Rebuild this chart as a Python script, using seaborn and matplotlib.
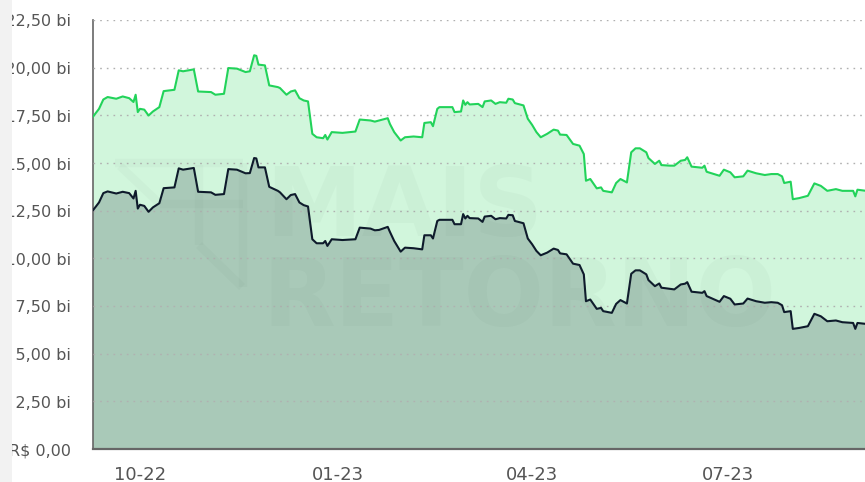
import matplotlib
matplotlib.use('Agg')
import matplotlib.pyplot as plt
import matplotlib.dates as mdates
from matplotlib import font_manager
from matplotlib.ticker import FuncFormatter
from matplotlib.patches import Rectangle
from matplotlib.lines import Line2D
import seaborn as sns
import pandas as pd

# data (R$ bi)
dates = ['2022-09-09', '2022-09-12', '2022-09-14', '2022-09-16', '2022-09-20', '2022-09-23',
         '2022-09-26', '2022-09-28', '2022-09-29', '2022-09-30', '2022-10-01', '2022-10-03',
         '2022-10-05', '2022-10-07', '2022-10-10', '2022-10-12', '2022-10-17', '2022-10-19',
         '2022-10-21', '2022-10-26', '2022-10-28', '2022-11-03', '2022-11-05', '2022-11-09',
         '2022-11-11', '2022-11-15', '2022-11-19', '2022-11-21', '2022-11-23', '2022-11-24',
         '2022-11-25', '2022-11-28', '2022-11-30', '2022-12-04', '2022-12-05', '2022-12-08',
         '2022-12-10', '2022-12-12', '2022-12-14', '2022-12-16', '2022-12-18', '2022-12-20',
         '2022-12-22', '2022-12-25', '2022-12-26', '2022-12-27', '2022-12-29', '2023-01-03',
         '2023-01-09', '2023-01-11', '2023-01-16', '2023-01-18', '2023-01-20', '2023-01-24',
         '2023-01-25', '2023-01-27', '2023-01-30', '2023-02-01', '2023-02-05', '2023-02-09',
         '2023-02-10', '2023-02-13', '2023-02-14', '2023-02-16', '2023-02-17', '2023-02-23',
         '2023-02-24', '2023-02-27', '2023-02-28', '2023-03-01', '2023-03-02', '2023-03-03',
         '2023-03-07', '2023-03-09', '2023-03-10', '2023-03-13', '2023-03-15', '2023-03-17',
         '2023-03-20', '2023-03-21', '2023-03-23', '2023-03-24', '2023-03-28', '2023-03-30',
         '2023-04-01', '2023-04-03', '2023-04-05', '2023-04-08', '2023-04-11', '2023-04-13',
         '2023-04-14', '2023-04-17', '2023-04-20', '2023-04-23', '2023-04-25', '2023-04-26',
         '2023-04-28', '2023-05-01', '2023-05-03', '2023-05-04', '2023-05-08', '2023-05-10',
         '2023-05-12', '2023-05-15', '2023-05-17', '2023-05-19', '2023-05-21', '2023-05-24',
         '2023-05-25', '2023-05-28', '2023-05-30', '2023-05-31', '2023-06-04', '2023-06-06',
         '2023-06-09', '2023-06-11', '2023-06-12', '2023-06-14', '2023-06-19', '2023-06-20',
         '2023-06-21', '2023-06-27', '2023-06-29', '2023-07-02', '2023-07-04', '2023-07-08',
         '2023-07-10', '2023-07-14', '2023-07-18', '2023-07-21', '2023-07-24', '2023-07-26',
         '2023-07-27', '2023-07-30', '2023-07-31', '2023-08-03', '2023-08-07', '2023-08-10',
         '2023-08-13', '2023-08-16', '2023-08-20', '2023-08-23', '2023-08-28', '2023-08-29',
         '2023-08-30', '2023-09-03']

upper_vals = [17.40, 17.84, 18.33, 18.46, 18.37, 18.49, 18.40, 18.20, 18.58, 17.67, 17.84, 17.80,
              17.49, 17.70, 17.93, 18.77, 18.84, 19.86, 19.81, 19.91, 18.75, 18.72, 18.58, 18.63,
              19.98, 19.95, 19.77, 19.81, 20.65, 20.62, 20.16, 20.12, 19.07, 18.98, 18.93, 18.58,
              18.75, 18.81, 18.40, 18.28, 18.23, 16.53, 16.35, 16.30, 16.47, 16.23, 16.62, 16.58,
              16.65, 17.28, 17.23, 17.17, 17.23, 17.35, 17.05, 16.62, 16.18, 16.35, 16.39, 16.35,
              17.10, 17.14, 16.93, 17.84, 17.93, 17.93, 17.67, 17.70, 18.28, 18.05, 18.19, 18.07,
              18.10, 17.93, 18.23, 18.28, 18.10, 18.19, 18.16, 18.37, 18.33, 18.14, 18.02, 17.32,
              17.00, 16.62, 16.35, 16.53, 16.75, 16.70, 16.49, 16.47, 16.00, 15.91, 15.47, 14.07,
              14.16, 13.67, 13.72, 13.54, 13.46, 13.95, 14.16, 13.98, 15.56, 15.77, 15.77, 15.56,
              15.26, 14.95, 15.12, 14.89, 14.86, 14.86, 15.12, 15.16, 15.30, 14.81, 14.75, 14.86,
              14.54, 14.33, 14.65, 14.51, 14.25, 14.30, 14.60, 14.46, 14.37, 14.42, 14.42, 14.30,
              13.95, 14.02, 13.10, 13.16, 13.28, 13.93, 13.80, 13.54, 13.63, 13.54, 13.54, 13.25,
              13.60, 13.54]

lower_vals = [12.49, 12.93, 13.42, 13.51, 13.40, 13.49, 13.42, 13.14, 13.54, 12.61, 12.81, 12.75,
              12.44, 12.67, 12.89, 13.68, 13.72, 14.72, 14.65, 14.74, 13.49, 13.46, 13.33, 13.37,
              14.68, 14.65, 14.46, 14.47, 15.26, 15.24, 14.77, 14.77, 13.75, 13.54, 13.46, 13.10,
              13.32, 13.37, 12.93, 12.79, 12.72, 11.00, 10.79, 10.79, 10.91, 10.65, 11.00, 10.96,
              11.00, 11.61, 11.56, 11.47, 11.49, 11.65, 11.39, 10.91, 10.35, 10.56, 10.53, 10.47,
              11.21, 11.21, 11.04, 11.96, 12.02, 12.02, 11.79, 11.79, 12.32, 12.09, 12.23, 12.11,
              12.09, 11.91, 12.19, 12.23, 12.05, 12.11, 12.09, 12.28, 12.26, 11.96, 11.84, 11.04,
              10.74, 10.39, 10.16, 10.30, 10.51, 10.44, 10.26, 10.21, 9.72, 9.65, 9.16, 7.75,
              7.84, 7.35, 7.40, 7.23, 7.14, 7.61, 7.81, 7.63, 9.19, 9.37, 9.37, 9.16,
              8.86, 8.54, 8.68, 8.46, 8.40, 8.37, 8.63, 8.67, 8.75, 8.25, 8.19, 8.28,
              8.02, 7.72, 8.02, 7.88, 7.58, 7.63, 7.89, 7.75, 7.67, 7.70, 7.67, 7.54,
              7.18, 7.23, 6.30, 6.35, 6.44, 7.09, 6.96, 6.70, 6.74, 6.65, 6.61, 6.30,
              6.61, 6.56]

x_ticks = ['2022-10-01', '2023-01-01', '2023-04-01', '2023-07-01']
y_ticks = [0, 2.5, 5, 7.5, 10, 12.5, 15, 17.5, 20, 22.5]


def brl(v, pos=None):
    '''formats y tick as R$ xx,xx bi'''
    if v == 0:
        return 'R$ 0,00'
    return 'R$ ' + f'{v:.2f}'.replace('.', ',') + ' bi'


df = pd.DataFrame({'date': pd.to_datetime(dates), 'upper': upper_vals, 'lower': lower_vals})

sns.set_style('white')

# narrow font for the date labels, if there is one
installed = {f.name for f in font_manager.fontManager.ttflist}
narrow = 'Liberation Sans Narrow' if 'Liberation Sans Narrow' in installed else 'DejaVu Sans'

W, H = 865, 482
fig = plt.figure(figsize=(W / 100, H / 100), dpi=100)
# faint grey strip at the very left of the screenshot (sits over the cut labels)
fig.patches.append(Rectangle((0, 0), 12 / W, 1, transform=fig.transFigure,
                             facecolor='#f2f2f2', edgecolor='none', zorder=10))

ax = fig.add_axes([93 / W, (H - 449) / H, (W - 93) / W, 429 / H])

# areas
ax.fill_between(df['date'], df['upper'], color='#d1f6dc', lw=0, zorder=1)
ax.fill_between(df['date'], df['lower'], color='#a9c9b8', lw=0, zorder=2)

# watermark
fig.text(265 / W, (H - 236) / H, 'MAIS', fontsize=70, fontweight='bold', color='#52705f',
         alpha=0.045, zorder=3)
fig.text(262 / W, (H - 326) / H, 'RETORNO', fontsize=68, fontweight='bold', color='#52705f',
         alpha=0.045, zorder=3)
logo = [[(115, 163), (243, 163)], [(120, 166), (160, 204)], [(160, 204), (243, 204)],
        [(199, 165), (199, 245)], [(199, 245), (242, 287)], [(243, 163), (243, 287)]]
for seg in logo:
    fig.lines.append(Line2D([p[0] / W for p in seg], [(H - p[1]) / H for p in seg],
                            transform=fig.transFigure, color='#52705f', alpha=0.04,
                            lw=6, solid_capstyle='butt', zorder=3))

# lines
sns.lineplot(data=df, x='date', y='upper', color='#22d35a', lw=1.5, ax=ax, zorder=5)
sns.lineplot(data=df, x='date', y='lower', color='#0e1a2b', lw=1.5, ax=ax, zorder=5)

ax.set_xlim(pd.Timestamp('2022-09-09 05:00'), pd.Timestamp('2023-09-02 12:00'))
ax.set_ylim(0, 22.5)
ax.set_xlabel('')
ax.set_ylabel('')

ax.set_yticks(y_ticks)
ax.yaxis.set_major_formatter(FuncFormatter(brl))
ax.set_xticks(pd.to_datetime(x_ticks))
ax.xaxis.set_major_formatter(mdates.DateFormatter('%m-%y'))

for v in y_ticks[1:]:
    ax.axhline(v, color='#b0b0b0', lw=1.0, ls=(0, (1.2, 3.6)), zorder=4)

ax.tick_params(axis='y', length=0, pad=16, labelsize=11.5, labelcolor='#555555')
ax.tick_params(axis='x', length=7, width=1, color='#c9d3e6', pad=5, labelsize=13,
               labelcolor='#555555')
for lab in ax.get_xticklabels():
    lab.set_fontfamily(narrow)

sns.despine(ax=ax, top=True, right=True)
ax.spines['left'].set_color('#666666')
ax.spines['left'].set_linewidth(1.2)
ax.spines['bottom'].set_color('#666666')
ax.spines['bottom'].set_linewidth(1.6)
ax.set_facecolor('white')

fig.savefig('out.png', dpi=100)
